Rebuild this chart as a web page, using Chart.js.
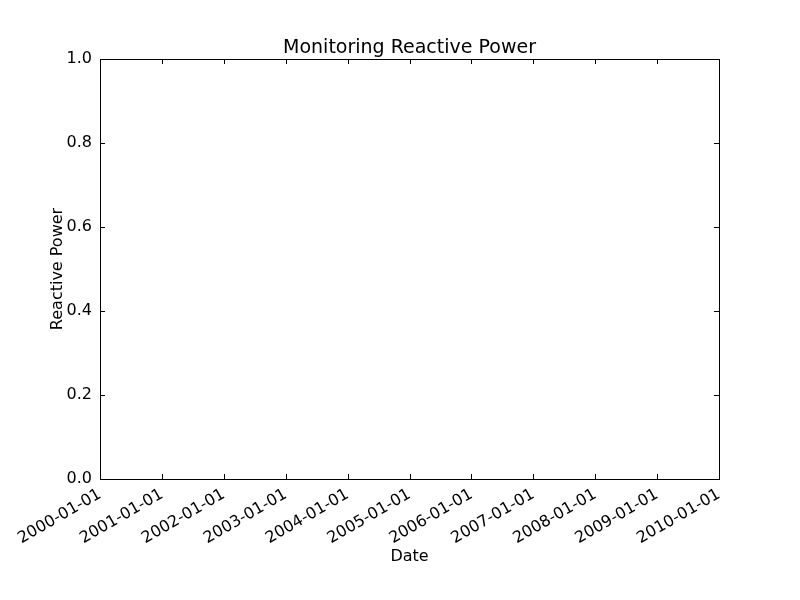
<!DOCTYPE html>
<html>
<head>
<meta charset="utf-8">
<script src="https://cdn.jsdelivr.net/npm/chart.js@4"></script>
<style>
  body { margin: 0; background: #fff; }
  #wrap { width: 800px; height: 600px; }
</style>
</head>
<body>
<div id="wrap"><canvas id="chart" width="800" height="600"></canvas></div>
<script>
const dateLabels = ['2000-01-01', '2001-01-01', '2002-01-01', '2003-01-01', '2004-01-01',
  '2005-01-01', '2006-01-01', '2007-01-01', '2008-01-01', '2009-01-01', '2010-01-01'];
const reactivePower = [];  // no data plotted
const yMin = 0, yMax = 1, yStep = 0.2;
const chartTitle = 'Monitoring Reactive Power';

const font = { family: 'DejaVu Sans', size: 16 };

// frame, inward tick marks and title centred on the plot area
const framePlugin = {
  id: 'frame',
  afterDraw(chart) {
    const { ctx, chartArea: a, scales } = chart;
    ctx.save();
    ctx.strokeStyle = '#000';
    ctx.lineWidth = 1;
    ctx.strokeRect(a.left + 0.5, a.top + 0.5, a.right - a.left, a.bottom - a.top);
    const len = 5;
    ctx.beginPath();
    scales.x.ticks.forEach((t, i) => {
      const x = Math.round(scales.x.getPixelForTick(i)) + 0.5;
      ctx.moveTo(x, a.bottom); ctx.lineTo(x, a.bottom - len);
      ctx.moveTo(x, a.top); ctx.lineTo(x, a.top + len);
    });
    scales.y.ticks.forEach((t, i) => {
      const y = Math.round(scales.y.getPixelForTick(i)) + 0.5;
      ctx.moveTo(a.left, y); ctx.lineTo(a.left + len, y);
      ctx.moveTo(a.right, y); ctx.lineTo(a.right - len, y);
    });
    ctx.stroke();
    ctx.fillStyle = '#000';
    ctx.font = '19px "DejaVu Sans"';
    ctx.textAlign = 'center';
    ctx.textBaseline = 'alphabetic';
    ctx.fillText(chartTitle, (a.left + a.right) / 2, a.top - 6);
    ctx.restore();
  }
};

new Chart(document.getElementById('chart').getContext('2d'), {
  type: 'line',
  data: {
    labels: dateLabels,
    datasets: [{ label: 'Reactive Power', data: reactivePower, borderColor: '#0000ff' }]
  },
  options: {
    responsive: false,
    animation: false,
    layout: { padding: { left: 0, right: 81, top: 59, bottom: 0 } },
    plugins: {
      legend: { display: false },
      tooltip: { enabled: false },
      title: { display: false }
    },
    scales: {
      x: {
        type: 'category',
        offset: false,
        grid: { display: false, drawTicks: false },
        border: { display: false },
        ticks: { color: '#000', font, minRotation: 30, maxRotation: 30, padding: 6, autoSkip: false },
        title: { display: true, text: 'Date', color: '#000', font, padding: { top: 0, bottom: 34 } },
        afterFit(scale) { scale.height = 121; }
      },
      y: {
        min: yMin, max: yMax,
        grid: { display: false, drawTicks: false },
        border: { display: false },
        ticks: {
          stepSize: yStep, color: '#000', font, padding: 8,
          callback: v => v.toFixed(1)
        },
        title: { display: true, text: 'Reactive Power', color: '#000', font, padding: { top: 48, bottom: 0 } },
        afterFit(scale) { scale.width = 100; }
      }
    }
  },
  plugins: [framePlugin]
});
</script>
</body>
</html>
